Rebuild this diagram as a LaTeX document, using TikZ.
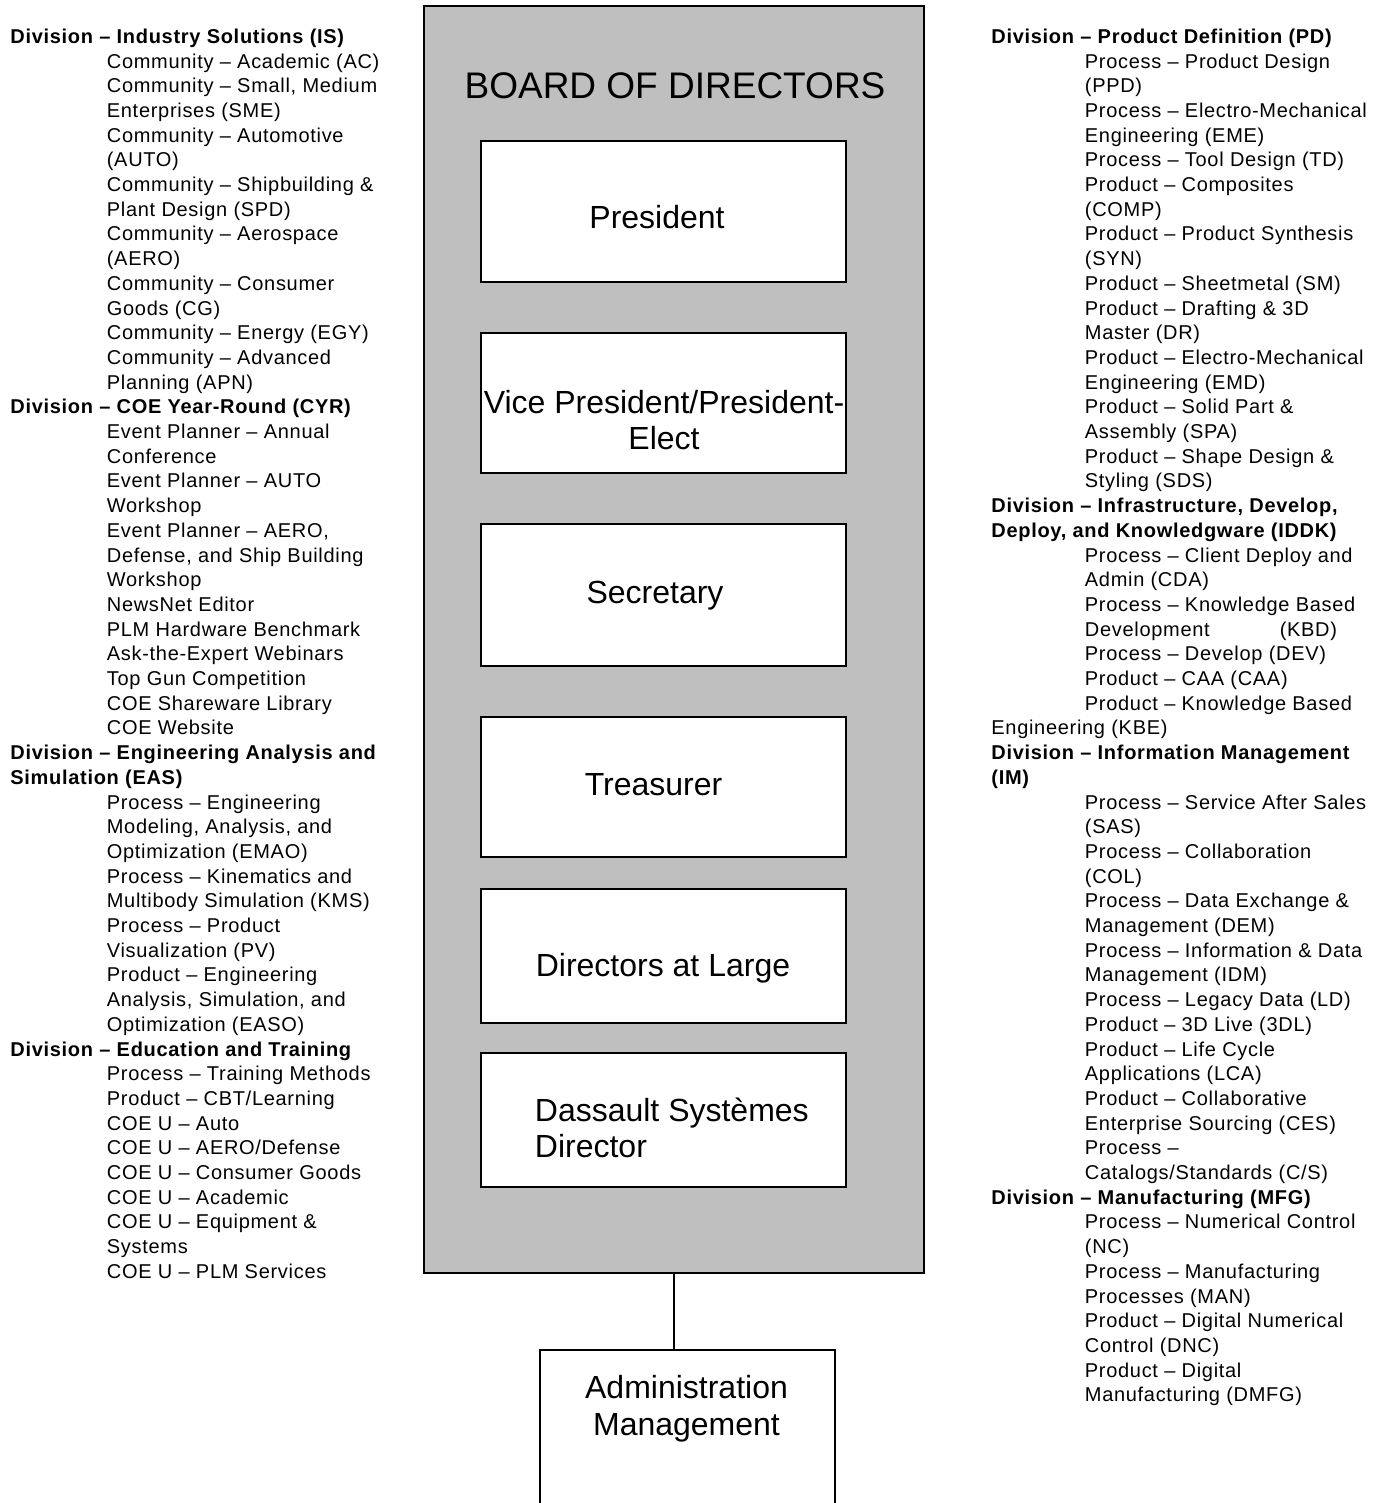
\documentclass[tikz,border=0pt]{standalone}
\usepackage{fontspec}
\setmainfont{Liberation Sans}
\newfontfamily\listfont{Liberation Sans}[LetterSpace=3.5]
\definecolor{boardgray}{rgb}{0.75, 0.75, 0.75}

\begin{document}
\begin{tikzpicture}[x=0.5pt,y=0.5pt,yscale=-1,
		office/.style={draw, line width=0.8pt, fill=white, minimum width=182.5pt, inner sep=0pt},
		boxtext/.style={inner sep=0pt, anchor=base, align=center, font=\fontsize{16pt}{18pt}\selectfont},
		division/.style={inner sep=0pt, anchor=base west, align=left, font=\listfont\bfseries\fontsize{10pt}{12.35pt}\selectfont},
		entries/.style={inner sep=0pt, anchor=base west, align=left, font=\listfont\fontsize{10pt}{12.35pt}\selectfont}]
		\useasboundingbox (0,0) rectangle (1385,1503);

		% The grey board frame and its title
		\node[draw, line width=0.8pt, fill=boardgray, minimum width=250pt, minimum height=633.5pt, inner sep=0pt] (board) at (674,639.5) {};
		\node[inner sep=0pt, anchor=base, font=\fontsize{18.5pt}{22pt}\selectfont] (boardtitle) at (675,99) {BOARD OF DIRECTORS};

		% The offices inside the board
		\node[office, minimum height=70.5pt] (president) at (663.5,211.5) {};
		\node[office, minimum height=70pt] (vicepres) at (663.5,403) {};
		\node[office, minimum height=71pt] (secretary) at (663.5,595) {};
		\node[office, minimum height=70pt] (treasurer) at (663.5,787) {};
		\node[office, minimum height=67pt] (atlarge) at (663.5,956) {};
		\node[office, minimum height=67pt] (dsdirector) at (663.5,1120) {};

		% The names of the offices (base = baseline of the last line)
		\node[boxtext] (presidenttext) at (657,228) {President};
		\node[boxtext] (vicepurestext) at (664,449) {Vice President/President-\\Elect};
		\node[boxtext] (secretarytext) at (655,603) {Secretary};
		\node[boxtext] (treasurertext) at (653.5,795.5) {Treasurer};
		\node[boxtext] (atlargetext) at (663,976.5) {Directors at Large};
		\node[boxtext, anchor=base west, align=left] (dsdirectortext) at (534.5,1157) {Dassault Systèmes\\Director};

		% The administration below the board, cut off by the page edge
		\node[draw, line width=0.8pt, fill=white, minimum width=147.5pt, minimum height=90pt, inner sep=0pt] (admin) at (687.5,1440) {};
		\node[boxtext, font=\fontsize{16pt}{18.5pt}\selectfont] (admintext) at (686.5,1435) {Administration\\Management};
		\draw[line width=0.8pt] (board.south) -- (board.south |- admin.north);

		% Left column: divisions and their entries
		\node[division] (divis) at (10,43.3) {Division – Industry Solutions (IS)};
		\node[entries] (entis) at (106.5,389.1) {Community – Academic (AC)\\Community – Small, Medium\\Enterprises (SME)\\Community – Automotive\\(AUTO)\\Community – Shipbuilding \&\\Plant Design (SPD)\\Community – Aerospace\\(AERO)\\Community – Consumer\\Goods (CG)\\Community – Energy (EGY)\\Community – Advanced\\Planning (APN)};
		\node[division] (divcyr) at (10,413.8) {Division – COE Year-Round (CYR)};
		\node[entries] (entcyr) at (106.5,734.9) {Event Planner – Annual\\Conference\\Event Planner – AUTO\\Workshop\\Event Planner – AERO,\\Defense, and Ship Building\\Workshop\\NewsNet Editor\\PLM Hardware Benchmark\\Ask-the-Expert Webinars\\Top Gun Competition\\COE Shareware Library\\COE Website};
		\node[division] (diveas) at (10,784.3) {Division – Engineering Analysis and\\Simulation (EAS)};
		\node[entries] (enteas) at (106.5,1031.3) {Process – Engineering\\Modeling, Analysis, and\\Optimization (EMAO)\\Process – Kinematics and\\Multibody Simulation (KMS)\\Process – Product\\Visualization (PV)\\Product – Engineering\\Analysis, Simulation, and\\Optimization (EASO)};
		\node[division] (divet) at (10,1056) {Division – Education and Training};
		\node[entries] (entet) at (106.5,1278.3) {Process – Training Methods\\Product – CBT/Learning\\COE U – Auto\\COE U – AERO/Defense\\COE U – Consumer Goods\\COE U – Academic\\COE U – Equipment \&\\Systems\\COE U – PLM Services};

		% Right column: divisions and their entries
		\node[division] (divpd) at (991,43.3) {Division – Product Definition (PD)};
		\node[entries] (entpd) at (1084.5,487.9) {Process – Product Design\\(PPD)\\Process – Electro-Mechanical\\Engineering (EME)\\Process – Tool Design (TD)\\Product – Composites\\(COMP)\\Product – Product Synthesis\\(SYN)\\Product – Sheetmetal (SM)\\Product – Drafting \& 3D\\Master (DR)\\Product – Electro-Mechanical\\Engineering (EMD)\\Product – Solid Part \&\\Assembly (SPA)\\Product – Shape Design \&\\Styling (SDS)};
		\node[division] (dividdk) at (991,537.3) {Division – Infrastructure, Develop,\\Deploy, and Knowledgware (IDDK)};
		\node[entries] (entiddk) at (1084.5,710.2) {Process – Client Deploy and\\Admin (CDA)\\Process – Knowledge Based\\Development\hspace{35pt}(KBD)\\Process – Develop (DEV)\\Product – CAA (CAA)\\Product – Knowledge Based};
		\node[entries] (entkbe) at (991,734.9) {Engineering (KBE)};
		\node[division] (divim) at (991,784.3) {Division – Information Management\\(IM)};
		\node[entries] (entim) at (1084.5,1179.5) {Process – Service After Sales\\(SAS)\\Process – Collaboration\\(COL)\\Process – Data Exchange \&\\Management (DEM)\\Process – Information \& Data\\Management (IDM)\\Process – Legacy Data (LD)\\Product – 3D Live (3DL)\\Product – Life Cycle\\Applications (LCA)\\Product – Collaborative\\Enterprise Sourcing (CES)\\Process –\\Catalogs/Standards (C/S)};
		\node[division] (divmfg) at (991,1204.2) {Division – Manufacturing (MFG)};
		\node[entries] (entmfg) at (1084.5,1401.8) {Process – Numerical Control\\(NC)\\Process – Manufacturing\\Processes (MAN)\\Product – Digital Numerical\\Control (DNC)\\Product – Digital\\Manufacturing (DMFG)};
	\end{tikzpicture}
\end{document}
